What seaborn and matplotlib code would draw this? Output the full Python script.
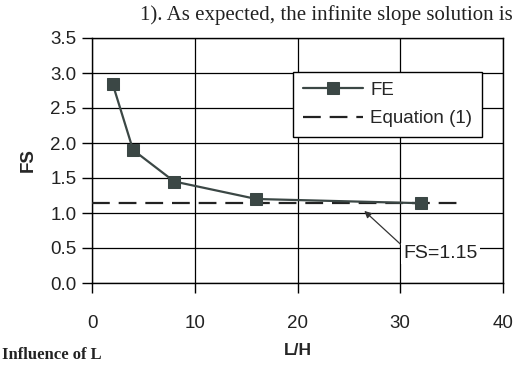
import matplotlib
matplotlib.use("Agg")
import matplotlib.pyplot as plt
import seaborn as sns
import pandas as pd
from matplotlib.ticker import FormatStrFormatter

# data
lh_fe = [2, 4, 8, 16, 32]
fs_fe = [2.85, 1.90, 1.45, 1.20, 1.14]
lh_eq = [0, 36]
fs_eq = [1.15, 1.15]
x_ticks = [0, 10, 20, 30, 40]
y_ticks = [0.0, 0.5, 1.0, 1.5, 2.0, 2.5, 3.0, 3.5]

sns.set_theme(style="white")
plt.rcParams['font.family'] = ['Liberation Sans', 'DejaVu Sans']

fig = plt.figure(figsize=(5.15, 3.66), dpi=100)
ax = fig.add_axes([92/515, 1-283/366, 411/515, 245/366])

df_fe = pd.DataFrame({"L/H": lh_fe, "FS": fs_fe, "s": "FE"})
df_eq = pd.DataFrame({"L/H": lh_eq, "FS": fs_eq, "s": "Equation (1)"})

dark = "#3b4745"
sns.lineplot(data=df_fe, x="L/H", y="FS", ax=ax, color=dark, lw=1.6,
             marker="s", markersize=8, markeredgecolor=dark,
             markerfacecolor=dark, label="FE", zorder=4)
sns.lineplot(data=df_eq, x="L/H", y="FS", ax=ax, color="#222222", lw=1.6,
             label="Equation (1)", zorder=3)
ax.lines[-1].set_dashes((8, 4))

ax.set_xlim(0, 40)
ax.set_ylim(0, 3.5)
ax.set_xticks(x_ticks)
ax.set_yticks(y_ticks)
ax.yaxis.set_major_formatter(FormatStrFormatter('%.1f'))
ax.grid(True, color="black", lw=0.9)
for sp in ax.spines.values():
    sp.set_color("black")
    sp.set_linewidth(1.0)
ax.tick_params(axis='x', which='both', direction='out', length=7, width=1,
               color='black', pad=16, labelsize=13.5, labelcolor='#222222')
ax.tick_params(axis='y', which='both', direction='out', length=7, width=1,
               color='black', pad=4, labelsize=13.5, labelcolor='#222222')
ax.tick_params(left=True, bottom=True)
ax.set_xlabel("L/H", fontsize=12.5, fontweight='bold', labelpad=8)
ax.set_ylabel("FS", fontsize=13.5, fontweight='bold', labelpad=10)

leg = ax.legend(loc='upper left', bbox_to_anchor=(0.49, 0.86), frameon=True,
                fancybox=False, edgecolor='black', fontsize=13.5,
                handlelength=3.2, borderpad=0.5, labelspacing=0.6,
                handletextpad=0.4, borderaxespad=0)
leg.get_frame().set_linewidth(1.0)
leg.get_frame().set_alpha(1)

ax.annotate("FS=1.15", xy=(26.5, 1.03), xytext=(30.3, 0.42),
            fontsize=14, color='#222222', ha='left', va='center',
            bbox=dict(boxstyle='square,pad=0.1', fc='white', ec='none'),
            arrowprops=dict(arrowstyle='-|>', color='#333333', lw=0.9,
                            mutation_scale=10, shrinkA=0, shrinkB=0,
                            relpos=(0.0, 0.9)))

fig.text(513/515, 1-20/366, "1). As expected, the infinite slope solution is",
         ha='right', va='baseline', fontsize=15,
         family=['Liberation Serif', 'DejaVu Serif'], color='#222222')
fig.text(2/515, 1-347/366, "Influence of L",
         ha='left', va='top', fontsize=12, fontweight='bold',
         family=['Liberation Serif', 'DejaVu Serif'], color='#222222')

fig.savefig("out.png", dpi=100)
